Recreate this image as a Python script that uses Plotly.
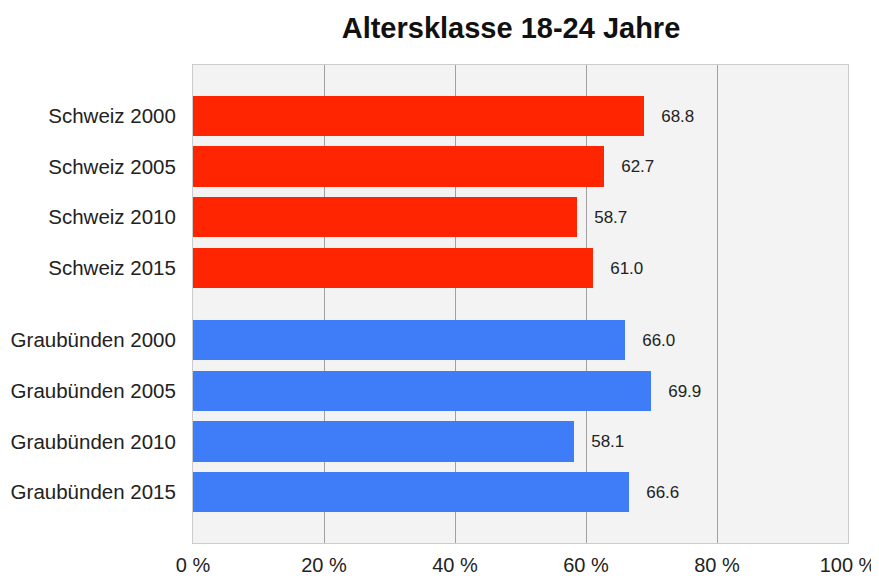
import plotly.graph_objects as go

# ---- data ----
schweiz_labels = ["Schweiz 2000", "Schweiz 2005", "Schweiz 2010", "Schweiz 2015"]
schweiz_values = [68.8, 62.7, 58.7, 61.0]
graub_labels = ["Graubünden 2000", "Graubünden 2005", "Graubünden 2010", "Graubünden 2015"]
graub_values = [66.0, 69.9, 58.1, 66.6]
x_tickvals = [0, 20, 40, 60, 80, 100]
x_ticktext = ["0 %", "20 %", "40 %", "60 %", "80 %", "100 %"]
title_text = "Altersklasse 18-24 Jahre"

# ---- layout helpers ----
group_gap = 0.42
schweiz_pos = [i for i in range(len(schweiz_labels))]
graub_pos = [len(schweiz_labels) + group_gap + i for i in range(len(graub_labels))]

FONT = "Liberation Sans, Arial, sans-serif"
W, H = 871, 568  # page body adds an 8px offset

fig = go.Figure()
fig.add_trace(go.Bar(
    y=schweiz_pos, x=schweiz_values, orientation="h",
    marker=dict(color="#FF2500", line=dict(width=0)), width=0.79,
    text=[f"{v:.1f}" for v in schweiz_values], texttemplate="   %{text}",
    textposition="outside", cliponaxis=False,
    textfont=dict(family=FONT, size=17, color="#222222"),
    showlegend=False,
))
fig.add_trace(go.Bar(
    y=graub_pos, x=graub_values, orientation="h",
    marker=dict(color="#3F7CF7", line=dict(width=0)), width=0.79,
    text=[f"{v:.1f}" for v in graub_values], texttemplate="   %{text}",
    textposition="outside", cliponaxis=False,
    textfont=dict(family=FONT, size=17, color="#222222"),
    showlegend=False,
))

last = graub_pos[-1]
fig.update_layout(
    width=W, height=H,
    margin=dict(l=185, r=31, t=57, b=33, autoexpand=False),
    paper_bgcolor="white", plot_bgcolor="#F3F3F3",
    title=dict(text=f"<b>{title_text}</b>", x=503/W, xanchor="center",
               y=1 - 20/H, yanchor="middle",
               font=dict(family=FONT, size=29, color="#111111")),
    font=dict(family=FONT, color="#222222"),
    bargap=0,
)
fig.update_xaxes(
    range=[0, 100], tickvals=x_tickvals, ticktext=x_ticktext,
    showgrid=True, gridcolor="#A0A0A0", gridwidth=1, zeroline=False,
    showline=True, linecolor="#CCCCCC", linewidth=1, mirror=True,
    ticks="outside", ticklen=4, tickcolor="rgba(0,0,0,0)",
    tickfont=dict(family=FONT, size=20, color="#222222"),
    automargin=False,
)
fig.update_yaxes(
    range=[last + 1.0, -1.0],
    tickvals=schweiz_pos + graub_pos, ticktext=schweiz_labels + graub_labels,
    showgrid=False, zeroline=False,
    showline=True, linecolor="#CCCCCC", linewidth=1, mirror=True,
    ticks="outside", ticklen=12, tickcolor="rgba(0,0,0,0)",
    tickfont=dict(family=FONT, size=20.5, color="#222222"),
    automargin=False,
)

fig.write_html("out.html")
